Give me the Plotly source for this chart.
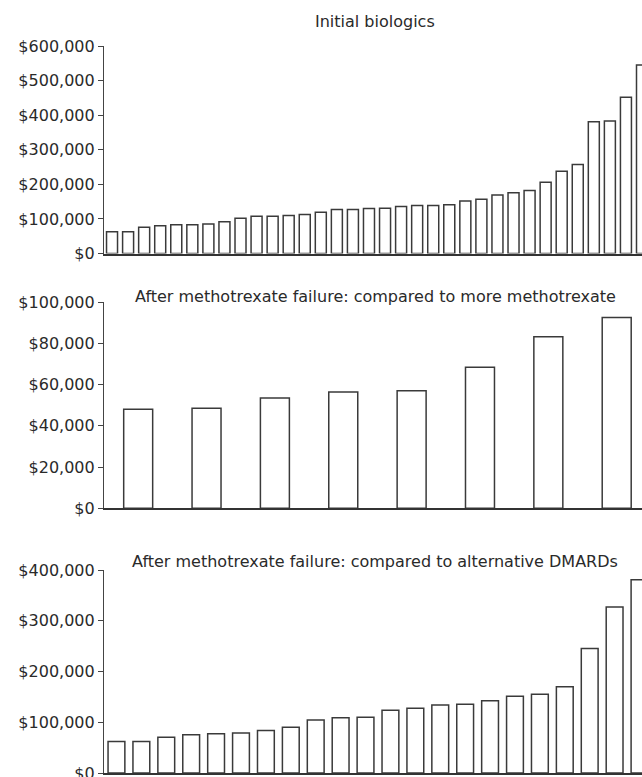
import plotly.graph_objects as go

# Panel data (costs per QALY, sorted ascending)
initial_biologics = [63000, 63000, 76000, 80000, 83000, 83000, 85000, 92000, 102000, 108000,
                     108000, 110000, 113000, 119000, 127000, 127000, 130000, 131000, 136000, 139000,
                     139000, 141000, 152000, 157000, 169000, 176000, 182000, 206000, 238000, 257000,
                     381000, 383000, 452000, 545000]
vs_more_mtx = [48000, 48500, 53500, 56400, 57000, 68400, 83200, 92500]
vs_alt_dmards = [62000, 62000, 70500, 75500, 77500, 79000, 83500, 90000, 104500, 109000,
                 110000, 123500, 127500, 134000, 135500, 142500, 151000, 155000, 170000, 245500,
                 327000, 381000]

titles = ["Initial biologics",
          "After methotrexate failure: compared to more methotrexate",
          "After methotrexate failure: compared to alternative DMARDs"]
ticks1 = [0, 100000, 200000, 300000, 400000, 500000, 600000]
ticks2 = [0, 20000, 40000, 60000, 80000, 100000]
ticks3 = [0, 100000, 200000, 300000, 400000]

W, H = 642, 777
FONT = "DejaVu Sans, Liberation Sans, Arial, sans-serif"
EDGE = "#3a3a3a"


def dom(top_px, bot_px):
    return [1 - bot_px / H, 1 - top_px / H]


def money(v):
    return "${:,}".format(v)


fig = go.Figure()
panels = [
    (initial_biologics, 0.685, [-0.5, 33.0], ticks1, [0, 600000], dom(46, 253.5), 22),
    (vs_more_mtx, 0.424, [-0.5, 7.37], ticks2, [0, 100000], dom(302, 508.3), 296),
    (vs_alt_dmards, 0.675, [-0.5, 21.1], ticks3, [0, 400000], dom(570, 773), 561),
]

for i, (vals, bw, xr, tv, yr, d, ty) in enumerate(panels):
    n = i + 1
    sx = "" if n == 1 else str(n)
    fig.add_trace(go.Bar(
        x=list(range(len(vals))), y=vals, width=bw,
        marker=dict(color="white", line=dict(color=EDGE, width=1.5)),
        xaxis="x" + sx, yaxis="y" + sx, showlegend=False, hoverinfo="y"))
    fig.layout["xaxis" + sx] = dict(
        domain=[0, 1], range=xr, anchor="y" + sx, showticklabels=False, ticks="",
        automargin=False,
        showgrid=False, zeroline=False, showline=True, linecolor="#333", linewidth=1.5)
    fig.layout["yaxis" + sx] = dict(
        domain=d, range=yr, anchor="x" + sx, tickmode="array", tickvals=tv,
        ticktext=[money(v) for v in tv], automargin=False, ticklabeloverflow="allow",
        ticks="outside", ticklen=5, tickcolor="#444", tickwidth=1.2,
        showgrid=False, zeroline=False, showline=True, linecolor="#444", linewidth=1.2,
        tickfont=dict(family=FONT, size=16, color="#2a2a2a"))
    fig.add_annotation(text=titles[i], xref="paper", yref="paper",
                       x=0.504, y=1 - ty / H, xanchor="center", yanchor="middle",
                       showarrow=False, font=dict(family=FONT, size=16, color="#2a2a2a"))

fig.update_layout(width=W, height=H, margin=dict(l=104, r=0, t=0, b=0, autoexpand=False),
                  paper_bgcolor="white", plot_bgcolor="white",
                  font=dict(family=FONT, size=16, color="#2a2a2a"))

fig.write_html("out.html", config={"displayModeBar": False},
               post_script="document.body.style.margin='0';document.body.style.overflow='hidden';")
